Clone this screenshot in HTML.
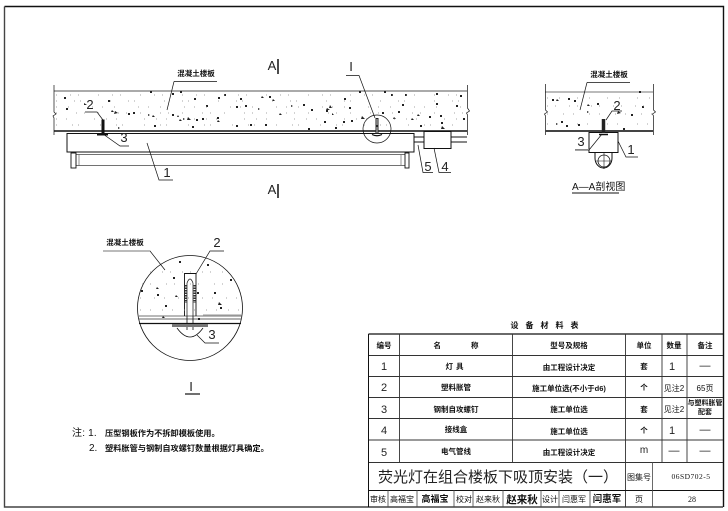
<!DOCTYPE html>
<html><head><meta charset="utf-8"><style>
html,body{margin:0;padding:0;background:#fff}
svg{display:block}
text{font-family:"Liberation Sans","Noto Sans CJK SC",sans-serif;fill:#111}
.b{font-size:7.5px;font-weight:700;text-anchor:middle}
.n{font-size:11px;text-anchor:middle;fill:#222;font-family:"Liberation Sans Narrow","Liberation Sans",sans-serif}
.l{font-size:13px;text-anchor:middle;fill:#222;font-family:"Liberation Sans Narrow","Liberation Sans",sans-serif}
.t{font-size:8px;font-weight:400;text-anchor:middle}
</style></head><body>
<svg width="728" height="511" viewBox="0 0 728 511" xmlns="http://www.w3.org/2000/svg">
<rect width="728" height="511" fill="#fff"/>
<g fill="none" stroke="#111">
<!-- frame -->
<path d="M4.5 6.5H723.5V507" stroke-width="1.4"/>
<path d="M4.5 6.5V507H723" stroke="#444" stroke-width="1.4"/>

<!-- main slab -->
<path d="M54 91H467" stroke="#777" stroke-width="1.2"/>
<path d="M54 85V112l2 2-3 2 1 2V135M467.5 85V108l2 3-3 2 1 2V135" stroke-width=".7"/>
<path d="M54 131H467" stroke="#111" stroke-width="1.5"/>
<path d="M67 133.5H414V152H67Z" stroke-width="1"/>
<path d="M76 154.5H405M76 165.5H405" stroke="#444" stroke-width=".8"/>
<path d="M76 154V166M79 154V166" stroke="#666" stroke-width=".7"/>
<rect x="71" y="153" width="5" height="15" stroke-width=".9"/>
<rect x="405" y="153" width="4" height="15" stroke-width=".9"/>
<path d="M401 155V165" stroke="#666" stroke-width=".7"/>
<path d="M414 137H424M414 142H424M451 137H467M451 142H467" stroke-width=".9"/>
<rect x="424" y="131.500" width="27" height="17" stroke-width="1"/>
<path d="M103 119.500V133" stroke-width="3"/>
<path d="M97 134.500H108" stroke-width="2"/>
<path d="M377 118V134" stroke="#222" stroke-width="3"/>
<path d="M377 119V133" stroke="#fff" stroke-width=".8"/>
<circle cx="377" cy="129" r="14" stroke-width=".7"/>
<path d="M372 134.500Q377 137 382 134.500" stroke-width="1.2"/>

<!-- main leaders -->
<path d="M174 81.500H217M174 81.500L167 110" stroke-width=".7"/>
<path d="M85 112H97L103 120" stroke-width=".7"/>
<path d="M103 134L120 146H129" stroke-width=".7"/>
<path d="M147 143L159 180H173" stroke-width=".7"/>
<path d="M346 75.500H359L375 118" stroke-width=".7"/>
<path d="M418 145L423 172.500H433" stroke-width=".7"/>
<path d="M434 148L439 172.500H451" stroke-width=".7"/>
<path d="M278 59V74M278 184V198" stroke-width="1.5"/>

<!-- section slab -->
<path d="M545 92H653" stroke="#777" stroke-width="1"/>
<path d="M545.500 84V110l2 2-3 2 1 2V135M653.500 84V110l2 2-3 2 1 2V135" stroke-width=".7"/>
<path d="M545 131H653" stroke="#444" stroke-width="2"/>
<rect x="589" y="132.500" width="29" height="20" stroke-width="1"/>
<path d="M595 152.500V158A8.500 10 0 0 0 612 158V152.500" stroke-width="1"/>
<circle cx="604" cy="161" r="6" stroke-width=".8"/>
<path d="M604 153V169M596 161H612" stroke-width=".6"/>
<path d="M603.500 119V133" stroke="#222" stroke-width="3.500"/>
<path d="M599 134.500H608" stroke-width="1.500"/>
<path d="M587 82.500H630M587 82.500L580 110" stroke-width=".7"/>
<path d="M606 120L612 111H622" stroke-width=".7"/>
<path d="M602 134L589 150H575" stroke-width=".7"/>
<path d="M575 149.500H589" stroke="#888" stroke-width="1"/>
<path d="M618 141L626 157H638" stroke-width=".7"/>
<path d="M572 193H619" stroke-width="1"/>

<!-- detail I -->
<circle cx="190" cy="308" r="52.500" stroke-width=".8"/>
<path d="M139 316H242" stroke="#444" stroke-width=".8"/>
<path d="M139 319H242" stroke="#666" stroke-width="1"/>
<path d="M139 323.500H241" stroke-width="1.300"/>
<path d="M203 315H241" stroke="#aaa" stroke-width="1.200"/>
<path d="M184.500 316V273.500H196V316" stroke-width=".9"/>
<path d="M187 316V283Q190 275 193 283V316" stroke-width=".7"/>
<path d="M186 285V303M194.500 285V303" stroke-width="2" stroke-dasharray="1.500 1" stroke="#333"/>
<path d="M187 316V330M193 316V330" stroke-width=".8"/>
<path d="M172 325.500H208" stroke="#777" stroke-width="3"/>
<path d="M177 328Q190 346 203 328" stroke-width=".8"/>
<path d="M103 251H150L165 270" stroke-width=".7"/>
<path d="M103 251H150" stroke="#777" stroke-width="1"/>
<path d="M196 274L210 251H224" stroke-width=".7"/>
<path d="M197 335L205 343H219" stroke-width=".7"/>
<path d="M185 394H200" stroke-width="1.200"/>

<!-- table -->
<path d="M368.500 334H723" stroke-width="1.200"/>
<path d="M368 355.500H723M368 376.500H723M368 397.500H723M368 418.500H723M368 440H723M368 462.500H723" stroke="#333" stroke-width=".9"/>
<path d="M368.500 334V507" stroke-width="1"/>
<path d="M399.500 334V462M512.500 334V462M625.500 334V507M662 334V462M687 334V462" stroke="#333" stroke-width=".9"/>
<path d="M368 490.500H723" stroke-width="1.100"/>
<path d="M652.500 462V507" stroke="#444" stroke-width=".8"/>
<path d="M388 490V507M417 490V507M454 490V507M473 490V507M503 490V507M541 490V507M559 490V507M590 490V507" stroke="#444" stroke-width=".8"/>
</g>

<!-- concrete aggregate -->
<g fill="#222">
<path d="M64 97h2v2h-2zM66 108h2v2h-2zM84 103l3 2h-3zM112 110l2 2h-3zM108 100h2v2h-2zM115 111l3 2-4 1zM128 113h2v2h-2zM133 112h2v2h-2zM148 114l2 1-2 1zM153 115l2 2h-3zM150 91h2v2h-2zM172 93h2v2h-2zM180 91h2v2h-2zM172 114h2v2h-2zM178 115l1 2h-2zM183 118l2 1-2 1zM180 119l2 2h-3zM188 117l3 3h-4zM196 119h2v2h-2zM192 126h2v2h-2zM202 118h2v2h-2zM217 117h2v2h-2zM218 120l2 2h-3zM194 98h2v2h-2zM206 105h2v2h-2zM218 97h2v2h-2zM224 94h2v2h-2zM240 98h2v2h-2zM236 106h2v2h-2zM245 105h2v2h-2zM258 108l2 1-2 1zM262 96l2 2h-3zM269 96h2v2h-2zM273 99l2 2h-3zM280 113l2 2h-3zM291 105l2 1-2 1zM303 104h2v2h-2zM311 109h2v2h-2zM327 108l3 2h-4zM330 105l2 3h-3zM324 121h2v2h-2zM308 128h2v2h-2zM349 107h2v2h-2zM344 98h2v2h-2zM326 110h2v2h-2zM351 120h2v2h-2zM335 127h2v2h-2zM332 113l2 2h-2zM343 121h2v2h-2zM359 91h2v2h-2zM384 91h2v2h-2zM391 94h2v2h-2zM405 94h2v2h-2zM436 93h2v2h-2zM436 103h2v2h-2zM402 104h2v2h-2zM398 111h2v2h-2zM382 112h2v2h-2zM362 116l3 3h-4zM376 125h2v2h-2zM394 117l2 2h-3zM412 118l2 2h-3zM418 114l2 2h-3zM429 116h2v2h-2zM440 115h2v2h-2zM441 122h2v2h-2zM460 95h2v2h-2zM456 105h2v2h-2zM463 118h2v2h-2zM420 125h2v2h-2zM442 126l3 3h-4zM250 124h2v2h-2zM265 124h2v2h-2zM236 125h2v2h-2zM154 125h2v2h-2zM118 127l2 1-2 1z"/>
<path d="M552 99h2v2h-2zM557 99l2 2h-3zM568 98h2v2h-2zM574 100h2v2h-2zM588 104l2 2h-3zM597 103h2v2h-2zM587 111l2 1-2 1zM618 111l3 2-4 1zM642 106h2v2h-2zM639 91h2v2h-2zM631 114h2v2h-2zM556 123l2 1-2 1zM561 121h2v2h-2zM578 124h2v2h-2zM623 128h2v2h-2zM566 125h2v2h-2z"/>
<path d="M179 261h2v2h-2zM207 264h2v2h-2zM173 277h2v2h-2zM230 279h2v2h-2zM157 287l2 2h-3zM141 290h2v2h-2zM157 294h2v2h-2zM214 292h2v2h-2zM197 292h2v2h-2zM176 295l2 2h-3zM165 305h2v2h-2zM219 302l3 3h-4zM220 307h2v2h-2zM163 316l2 2h-3zM198 318h2v2h-2z"/>
</g>
<!-- fine speckle -->
<g fill="none" stroke="#888" stroke-width=".7">
<path d="M56 95H466" stroke-dasharray="1 13 1 7 1 19"/>
<path d="M56 101H466" stroke-dasharray="1 17 1 5 1 29"/>
<path d="M56 107H466" stroke-dasharray="1 11 1 23 1 9"/>
<path d="M56 113H466" stroke-dasharray="1 19 1 7 1 13"/>
<path d="M56 119H466" stroke-dasharray="1 9 1 27 1 11"/>
<path d="M56 125H466" stroke-dasharray="1 15 1 5 1 21"/>
<path d="M547 98H652" stroke-dasharray="1 11 1 17"/>
<path d="M547 106H652" stroke-dasharray="1 7 1 13"/>
<path d="M547 114H652" stroke-dasharray="1 15 1 9"/>
<path d="M547 124H652" stroke-dasharray="1 9 1 19"/>
<path d="M150 272H230" stroke-dasharray="1 11 1 7"/>
<path d="M142 284H238" stroke-dasharray="1 7 1 15"/>
<path d="M140 298H240" stroke-dasharray="1 13 1 9"/>
<path d="M140 310H240" stroke-dasharray="1 9 1 11"/>
</g>

<!-- labels -->
<text class="b" x="196" y="76">混凝土楼板</text>
<text class="b" x="609" y="77">混凝土楼板</text>
<text class="b" x="125" y="245">混凝土楼板</text>
<text class="l" x="272" y="70">A</text>
<text class="l" x="272" y="194">A</text>
<text class="l" x="351" y="71">I</text>
<text class="l" x="90" y="109">2</text>
<text class="l" x="124" y="142">3</text>
<text class="l" x="167" y="177">1</text>
<text class="l" x="428" y="171">5</text>
<text class="l" x="445" y="171">4</text>
<text class="l" x="617" y="110">2</text>
<text class="l" x="581" y="146">3</text>
<text class="l" x="631" y="154">1</text>
<text x="572" y="190" style="font-size:10px;font-family:'Liberation Sans Narrow','Liberation Sans','Noto Sans CJK SC',sans-serif">A—A剖视图</text>
<text class="l" x="217" y="247">2</text>
<text class="l" x="212" y="339">3</text>
<text class="l" x="191" y="391">I</text>

<!-- notes -->
<text x="72" y="436" style="font-size:10px" letter-spacing=".2">注: 1.</text>
<text x="105" y="436" style="font-size:8.200px;font-weight:700">压型钢板作为不拆卸模板使用。</text>
<text x="89" y="451" style="font-size:10px">2.</text>
<text x="105" y="451" style="font-size:8.200px;font-weight:700">塑料胀管与钢制自攻螺钉数量根据灯具确定。</text>

<!-- table text -->
<text class="b" x="548" y="328" style="font-size:8px" letter-spacing="7">设备材料表</text>
<text class="b" x="384" y="348">编号</text>
<text class="b" x="456" y="348" xml:space="preserve">名　　　　称</text>
<text class="b" x="569" y="348">型号及规格</text>
<text class="b" x="644" y="348">单位</text>
<text class="b" x="674" y="348">数量</text>
<text class="b" x="705" y="348">备注</text>

<text class="n" x="384" y="370">1</text>
<text class="b" x="456" y="369" letter-spacing="3">灯具</text>
<text class="b" x="569" y="370">由工程设计决定</text>
<text class="b" x="644" y="369">套</text>
<text class="n" x="672" y="370">1</text>
<text class="n" x="705" y="369">—</text>

<text class="n" x="384" y="391">2</text>
<text class="b" x="456" y="390">塑料胀管</text>
<text class="b" x="569" y="391">施工单位选(不小于d6)</text>
<text class="b" x="644" y="390">个</text>
<text class="t" x="674" y="391">见注2</text>
<text class="t" x="705" y="391">65页</text>

<text class="n" x="384" y="413">3</text>
<text class="b" x="456" y="412">钢制自攻螺钉</text>
<text class="b" x="569" y="412">施工单位选</text>
<text class="b" x="644" y="412">套</text>
<text class="t" x="674" y="412">见注2</text>
<text class="b" x="705" y="405" style="font-size:7px">与塑料胀管</text>
<text class="b" x="705" y="414" style="font-size:7px">配套</text>

<text class="n" x="384" y="434">4</text>
<text class="b" x="456" y="432">接线盒</text>
<text class="b" x="569" y="434">施工单位选</text>
<text class="b" x="644" y="433">个</text>
<text class="n" x="672" y="434">1</text>
<text class="n" x="705" y="433">—</text>

<text class="n" x="384" y="456">5</text>
<text class="b" x="456" y="454">电气管线</text>
<text class="b" x="569" y="455">由工程设计决定</text>
<text class="n" x="644" y="453" style="font-size:10px">m</text>
<text class="n" x="674" y="454">—</text>
<text class="n" x="705" y="454">—</text>

<text x="378" y="482" style="font-size:15px;fill:#222">荧光灯在组合楼板下吸顶安装（一）</text>
<text class="t" x="639" y="480">图集号</text>
<text class="t" x="691" y="479" style="font-family:'Liberation Serif',serif;font-size:7.500px" letter-spacing=".5">06SD702-5</text>
<text class="t" x="378" y="502">审核</text>
<text class="t" x="402" y="502">高福宝</text>
<text class="b" x="435" y="502" style="font-size:9px">高福宝</text>
<text class="t" x="464" y="502">校对</text>
<text class="t" x="488" y="502">赵来秋</text>
<text class="b" x="522" y="503" style="font-size:10.500px">赵来秋</text>
<text class="t" x="550" y="502">设计</text>
<text class="t" x="574" y="502">闫惠军</text>
<text class="b" x="607" y="502" style="font-size:9.500px">闫惠军</text>
<text class="t" x="639" y="502">页</text>
<text class="t" x="692" y="502" style="font-family:'Liberation Serif',serif">28</text>
</svg>
</body></html>
